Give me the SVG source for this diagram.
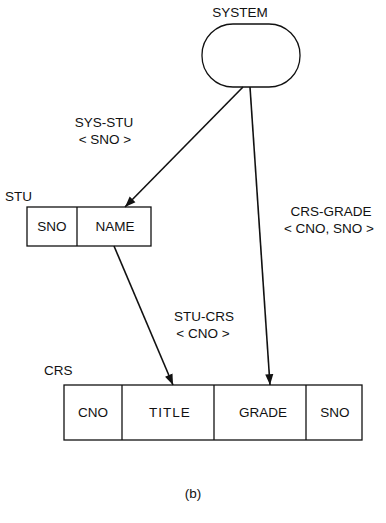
<svg xmlns="http://www.w3.org/2000/svg" width="386" height="523" viewBox="0 0 386 523">
<style>
text{font-family:"Liberation Sans",Arial,sans-serif;font-size:13.5px;fill:#111}
.c{text-anchor:middle}
.b{fill:none;stroke:#111;stroke-width:1.3}
.l{stroke:#111;stroke-width:1.6;fill:none}
</style>
<defs>
<marker id="ah" viewBox="0 0 12 10" refX="12" refY="5" markerWidth="11" markerHeight="9" markerUnits="userSpaceOnUse" orient="auto"><path d="M0,0.5 L12,5 L0,9.5 z" fill="#111"/></marker>
</defs>
<rect width="386" height="523" fill="#fff"/>
<g id="connectors">
<line class="l" x1="243" y1="87" x2="125" y2="207" marker-end="url(#ah)"/>
<line class="l" x1="250" y1="87" x2="270" y2="385" marker-end="url(#ah)"/>
<line class="l" x1="114" y1="246" x2="173" y2="385" marker-end="url(#ah)"/>
</g>
<g id="labels">
<text class="c" x="104" y="127">SYS-STU</text>
<text class="c" x="105" y="144">&lt; SNO &gt;</text>
<text class="c" x="331" y="216">CRS-GRADE</text>
<text class="c" x="329" y="233">&lt; CNO, SNO &gt;</text>
<text class="c" x="204" y="321">STU-CRS</text>
<text class="c" x="203" y="338">&lt; CNO &gt;</text>
</g>
<g id="system">
<text class="c" x="240" y="17">SYSTEM</text>
<rect class="b" x="202" y="24" width="98" height="63" rx="31" ry="31"/>
</g>
<g id="stu">
<text x="5" y="201">STU</text>
<rect class="b" x="27" y="207" width="124" height="39"/>
<line class="b" x1="77" y1="207" x2="77" y2="246"/>
<text class="c" x="52" y="231">SNO</text>
<text class="c" x="115" y="231">NAME</text>
</g>
<g id="crs">
<text x="44" y="375">CRS</text>
<rect class="b" x="64" y="385" width="298" height="55"/>
<line class="b" x1="122" y1="385" x2="122" y2="440"/>
<line class="b" x1="214" y1="385" x2="214" y2="440"/>
<line class="b" x1="306" y1="385" x2="306" y2="440"/>
<text class="c" x="93" y="417">CNO</text>
<text class="c" x="170" y="417" letter-spacing="1">TITLE</text>
<text class="c" x="263" y="417">GRADE</text>
<text class="c" x="335" y="417">SNO</text>
</g>
<text class="c" x="193" y="498">(b)</text>
</svg>
